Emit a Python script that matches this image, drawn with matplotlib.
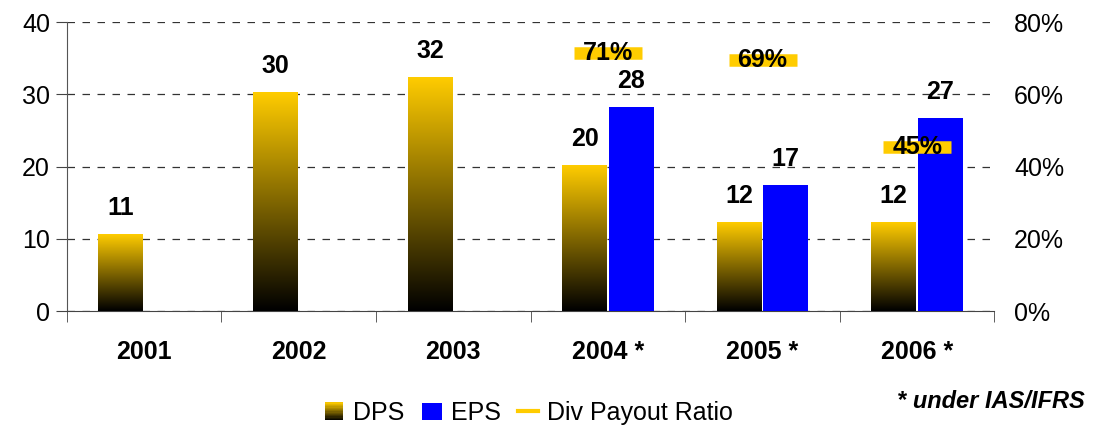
import matplotlib.pyplot as plt
import numpy as np
from matplotlib.colors import LinearSegmentedColormap
from matplotlib.patches import Rectangle
from matplotlib.lines import Line2D
from matplotlib.legend_handler import HandlerBase

plt.rcParams['font.family'] = ['Liberation Sans', 'DejaVu Sans']

# data
years = ['2001', '2002', '2003', '2004 *', '2005 *', '2006 *']
dps = [10.6, 30.3, 32.3, 20.2, 12.3, 12.3]
dps_labels = ['11', '30', '32', '20', '12', '12']
eps = [None, None, None, 28.2, 17.4, 26.7]
eps_labels = ['', '', '', '28', '17', '27']
payout = [None, None, None, 71.5, 69.5, 45.5]
payout_labels = ['', '', '', '71%', '69%', '45%']

yellow = '#FFCC00'
blue = '#0000FF'
grad = LinearSegmentedColormap.from_list('dps', ['#000000', '#806600', yellow])

fig = plt.figure(figsize=(10.94, 4.34), dpi=100)
ax = fig.add_axes([0.061, 0.283, 0.848, 0.666])
ax2 = ax.twinx()

x = np.arange(len(years))
w = 0.29
gap = 0.006

# DPS bars with vertical gradient
dps_bars = ax.bar(x - w / 2 - gap, dps, w, color='none', edgecolor='none', zorder=3)
gimg = np.linspace(0, 1, 256).reshape(-1, 1)
for b in dps_bars:
    bx, by = b.get_x(), b.get_y()
    bw, bh = b.get_width(), b.get_height()
    ax.imshow(gimg, cmap=grad, origin='lower', aspect='auto',
              extent=[bx, bx + bw, by, by + bh], zorder=3)

# EPS bars
for i, v in enumerate(eps):
    if v is not None:
        ax.bar(x[i] + w / 2 + gap, v, w, color=blue, zorder=3)

# value labels
for i, v in enumerate(dps):
    ax.text(x[i] - w / 2 - gap, v + 2.0, dps_labels[i], ha='center', va='bottom',
            fontsize=18, fontweight='bold', zorder=5)
for i, v in enumerate(eps):
    if v is not None:
        ax.text(x[i] + w / 2 + gap, v + 2.0, eps_labels[i], ha='center', va='bottom',
                fontsize=18, fontweight='bold', zorder=5)

# payout ratio markers
for i, p in enumerate(payout):
    if p is not None:
        ax2.hlines(p, x[i] - 0.22, x[i] + 0.22, color=yellow, linewidth=9, zorder=4)
        ax2.text(x[i], p, payout_labels[i], ha='center', va='center',
                 fontsize=18, fontweight='bold', zorder=6)

ax.set_xlim(-0.5, len(years) - 0.5)
ax.set_ylim(0, 40)
ax.set_yticks([0, 10, 20, 30, 40])
ax2.set_ylim(0, 80)
ax2.set_yticks([0, 20, 40, 60, 80])
ax2.set_yticklabels([f'{t}%' for t in [0, 20, 40, 60, 80]])

ax.yaxis.grid(True, linestyle=(0, (6, 6)), color='#333333', linewidth=0.9)
ax.set_axisbelow(True)

ax.set_xticks(x)
ax.set_xticklabels(years, fontsize=18, fontweight='bold')
ax.set_xticks(np.arange(-0.5, len(years)), minor=True)
ax.tick_params(axis='x', which='major', length=0, pad=21)
ax.tick_params(axis='x', which='minor', length=8, direction='out', color='#444444')
ax.tick_params(axis='y', labelsize=18, length=8, direction='out', color='#444444', pad=4)
ax2.tick_params(axis='y', labelsize=18, length=0, pad=14)

for s in ['top', 'right']:
    ax.spines[s].set_visible(False)
for s in ['top', 'right', 'left', 'bottom']:
    ax2.spines[s].set_visible(False)
ax.spines['left'].set_color('#555555')
ax.spines['bottom'].set_color('#444444')


# legend with gradient handle
class GradientHandler(HandlerBase):
    def create_artists(self, legend, orig_handle, xdescent, ydescent, width, height, fontsize, trans):
        arts = []
        n = 14
        side = height * 1.0
        x0 = -xdescent + (width - side) / 2
        for k in range(n):
            c = grad((k + 0.5) / n)
            arts.append(Rectangle((x0, -ydescent + side * k / n), side, side / n + 0.2,
                                  facecolor=c, edgecolor='none', transform=trans))
        return arts


dps_proxy = Rectangle((0, 0), 1, 1)
eps_proxy = Rectangle((0, 0), 1, 1, facecolor=blue)
pay_proxy = Line2D([0], [0], color=yellow, linewidth=3)
fig.legend([dps_proxy, eps_proxy, pay_proxy], ['DPS', 'EPS', 'Div Payout Ratio'],
           handler_map={dps_proxy: GradientHandler()},
           loc='center', bbox_to_anchor=(0.483, 0.048), ncol=3, frameon=False,
           fontsize=18, handlelength=0.8, handletextpad=0.35, columnspacing=0.7)

fig.text(0.992, 0.075, '* under IAS/IFRS', ha='right', va='center',
         fontsize=17, fontweight='bold', fontstyle='italic')

plt.savefig('out.png', dpi=100)
